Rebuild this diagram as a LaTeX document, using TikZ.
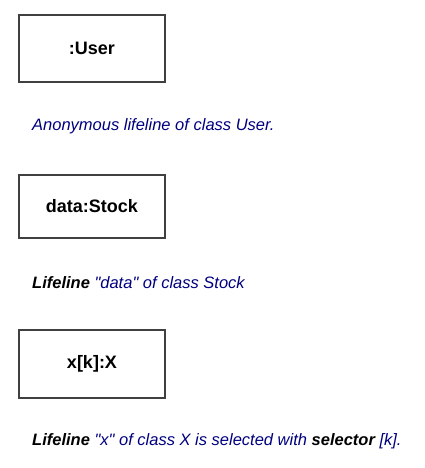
\documentclass[tikz,border=0pt]{standalone}
\usepackage{fontspec}
\setmainfont{Liberation Sans}
\definecolor{notecol}{HTML}{00007F}
\tikzset{
  lifeline/.style={draw=black!75,line width=1.5pt,minimum width=146pt,font=\fontsize{18}{20}\selectfont\bfseries,inner sep=0pt},
  caption/.style={anchor=west,inner sep=0pt,text=notecol,font=\fontsize{16.5}{19}\selectfont\itshape}
}
\begin{document}
\begin{tikzpicture}[x=1pt,y=-1pt]
\useasboundingbox (0,0) rectangle (425,468);
\node[lifeline,minimum height=67pt] (user) at (92,48.5) {:User};
\node[caption] (userNote) at (32,126.5) {Anonymous lifeline of class User.};
\node[lifeline,minimum height=63pt] (data) at (92,206.5) {data:Stock};
\node[caption] (dataNote) at (32,283) {\textcolor{black}{\bfseries Lifeline} \textquotedbl data\textquotedbl\ of class Stock};
\node[lifeline,minimum height=68pt] (sel) at (92,364) {x[k]:X};
\node[caption] (selNote) at (32,441) {\textcolor{black}{\bfseries Lifeline} \textquotedbl x\textquotedbl\ of class X is selected with \textcolor{black}{\bfseries selector} [k].};
\end{tikzpicture}
\end{document}
